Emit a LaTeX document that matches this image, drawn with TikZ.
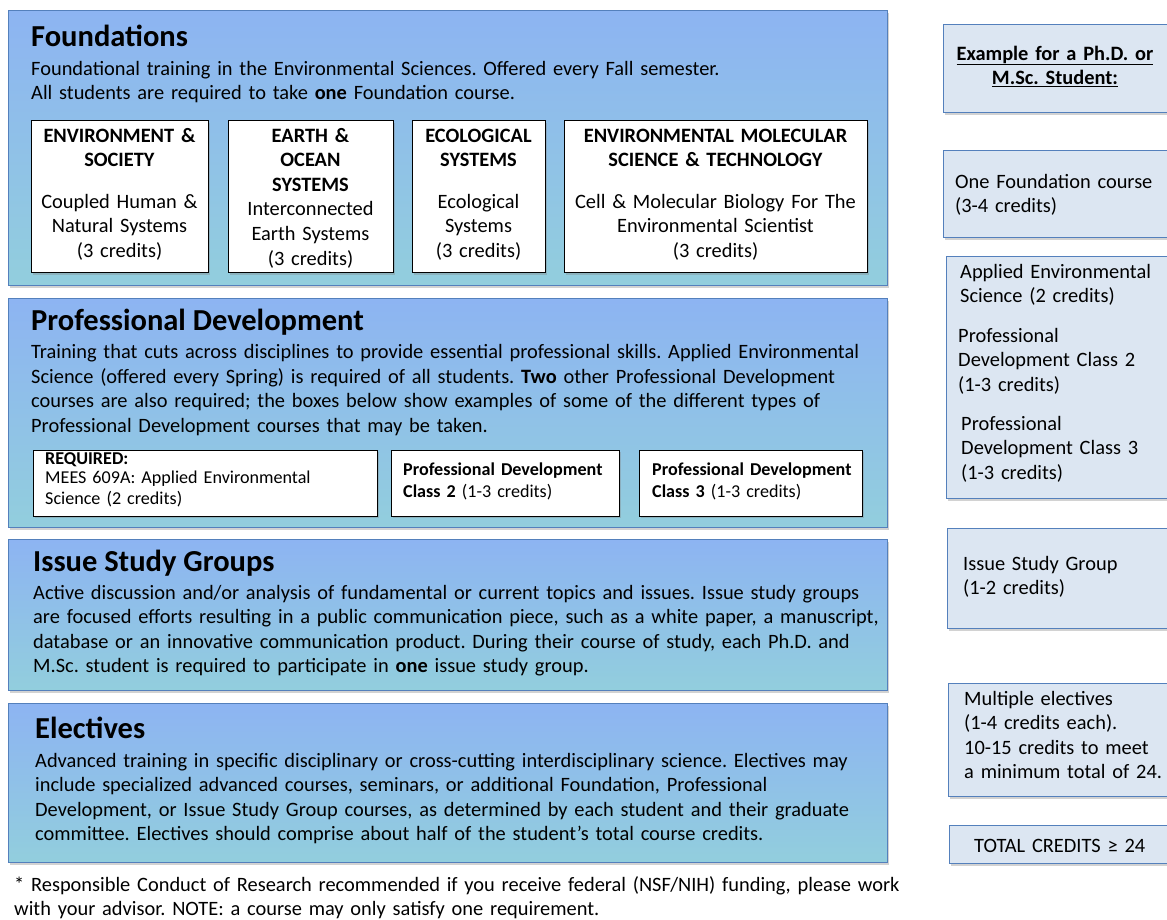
\documentclass[tikz,border=0pt]{standalone}
\usepackage{fontspec}
\setmainfont{Carlito}
\usetikzlibrary{shadows}
\definecolor{bluetop}{RGB}{141,180,242}
\definecolor{tealbot}{RGB}{146,206,221}
\definecolor{bord}{RGB}{84,128,188}
\definecolor{rfill}{RGB}{220,230,242}
\newcommand{\bodyfont}{\fontsize{20.4}{24.6}\selectfont}
\newcommand{\smallfont}{\fontsize{18.1}{21}\selectfont}
\frenchspacing
\begin{document}
\frenchspacing
\begin{tikzpicture}[x=1pt,y=-1pt,
  shad/.style={drop shadow={shadow xshift=1.5pt,shadow yshift=-2pt,opacity=.35}},
  bigbox/.style={draw=bord,line width=1.4pt,top color=bluetop,bottom color=tealbot,
    inner sep=0pt,anchor=north west,shad},
  whitebox/.style={draw=black,line width=1.2pt,fill=white,inner sep=0pt,anchor=north west,shad},
  rbox/.style={draw=bord,line width=1.4pt,fill=rfill,inner sep=0pt,anchor=north west,shad},
  titletext/.style={anchor=base west,inner sep=0pt,font=\fontsize{30.5}{36}\selectfont\bfseries},
  bodytext/.style={anchor=base west,inner sep=0pt,align=left,text width=1000pt,font=\bodyfont\frenchspacing},
  ctext/.style={anchor=base,inner sep=0pt,align=center,font=\bodyfont\frenchspacing},
  ltext/.style={anchor=base west,inner sep=0pt,align=left,text width=205pt,font=\bodyfont\frenchspacing},
  stext/.style={anchor=base west,inner sep=0pt,align=left,font=\smallfont\frenchspacing}
]
\useasboundingbox (0,0) rectangle (1167,919);
\fill[white] (0,0) rectangle (1167,919);

% ---------- big boxes ----------
\node[bigbox,minimum width=879pt,minimum height=275pt] (found) at (8,10) {};
\node[bigbox,minimum width=879pt,minimum height=229pt] (prof) at (8,298) {};
\node[bigbox,minimum width=879pt,minimum height=151pt] (isg) at (8,539) {};
\node[bigbox,minimum width=879pt,minimum height=159pt] (elec) at (8,703) {};

% ---------- Foundations ----------
\node[titletext] (ftitle) at (31,46) {Foundations};
\node[bodytext] (fbody) at (31,75) {Foundational training in the Environmental Sciences. Offered every Fall semester.\\
All students are required to take \textbf{one} Foundation course.};

\node[whitebox,minimum width=177pt,minimum height=152pt] (fb1) at (31,120) {};
\node[whitebox,minimum width=165pt,minimum height=152pt] (fb2) at (228,120) {};
\node[whitebox,minimum width=133pt,minimum height=152pt] (fb3) at (412,120) {};
\node[whitebox,minimum width=303pt,minimum height=152pt] (fb4) at (564,120) {};

\node[ctext,text width=170pt] (fb1t) at (119.5,142) {\textbf{ENVIRONMENT \&}\\ \textbf{SOCIETY}\\[17pt]
Coupled Human \&\\ Natural Systems\\ (3 credits)};
\node[ctext,text width=160pt] (fb2t) at (310.5,142) {\textbf{EARTH \&}\\ \textbf{OCEAN}\\ \textbf{SYSTEMS}\\
Interconnected\\ Earth Systems\\ (3 credits)};
\node[ctext,text width=130pt] (fb3t) at (478.5,142) {\textbf{ECOLOGICAL}\\ \textbf{SYSTEMS}\\[17pt]
Ecological\\ Systems\\ (3 credits)};
\node[ctext,text width=295pt] (fb4t) at (715.5,142) {\textbf{ENVIRONMENTAL MOLECULAR}\\ \textbf{SCIENCE \& TECHNOLOGY}\\[17pt]
Cell \& Molecular Biology For The\\ Environmental Scientist\\ (3 credits)};

% ---------- Professional Development ----------
\node[titletext] (ptitle) at (31,330) {Professional Development};
\node[bodytext] (pbody) at (31,358.5) {Training that cuts across disciplines to provide essential professional skills. Applied Environmental\\
Science (offered every Spring) is required of all students. \textbf{Two} other Professional Development\\
courses are also required; the boxes below show examples of some of the different types of\\
Professional Development courses that may be taken.};

\node[whitebox,minimum width=344pt,minimum height=66pt] (pb1) at (33,449.5) {};
\node[whitebox,minimum width=228pt,minimum height=66pt] (pb2) at (391,449.5) {};
\node[whitebox,minimum width=223pt,minimum height=66pt] (pb3) at (639,449.5) {};

\node[stext,text width=330pt] (pb1t) at (45,464) {\textbf{REQUIRED:}\\[-1.5pt]
MEES 609A: Applied Environmental\\ Science (2 credits)};
\node[stext,text width=215pt] (pb2t) at (403,475) {\textbf{Professional Development}\\[1.5pt]
\textbf{Class 2} (1-3 credits)};
\node[stext,text width=215pt] (pb3t) at (652,475) {\textbf{Professional Development}\\[1.5pt]
\textbf{Class 3} (1-3 credits)};

% ---------- Issue Study Groups ----------
\node[titletext] (ititle) at (33,571) {Issue Study Groups};
\node[bodytext] (ibody) at (33,599) {Active discussion and/or analysis of fundamental or current topics and issues. Issue study groups\\
are focused efforts resulting in a public communication piece, such as a white paper, a manuscript,\\
database or an innovative communication product. During their course of study, each Ph.D. and\\
M.Sc. student is required to participate in \textbf{one} issue study group.};

% ---------- Electives ----------
\node[titletext] (etitle) at (35,738) {Electives};
\node[bodytext] (ebody) at (35,767) {Advanced training in specific disciplinary or cross-cutting interdisciplinary science. Electives may\\
include specialized advanced courses, seminars, or additional Foundation, Professional\\
Development, or Issue Study Group courses, as determined by each student and their graduate\\
committee. Electives should comprise about half of the student’s total course credits.};

% ---------- footnote ----------
\node[bodytext] (foot) at (14,891) {* Responsible Conduct of Research recommended if you receive federal (NSF/NIH) funding, please work\\[-0.6pt]
with your advisor. NOTE: a course may only satisfy one requirement.};

% ---------- right column ----------
\node[rbox,minimum width=250pt,minimum height=88pt] (r1) at (943,24) {};
\node[rbox,minimum width=250pt,minimum height=87pt] (r2) at (943,150) {};
\node[rbox,minimum width=250pt,minimum height=242pt] (r3) at (946,256) {};
\node[rbox,minimum width=250pt,minimum height=100pt] (r4) at (947,528) {};
\node[rbox,minimum width=250pt,minimum height=113pt] (r5) at (948,683) {};
\node[rbox,minimum width=250pt,minimum height=38pt] (r6) at (949,825) {};

\node[ctext,text width=220pt] (r1t) at (1055,60) {\textbf{\underline{Example for a Ph.D. or}}\\ \textbf{\underline{M.Sc. Student:}}};
\node[ltext] (r2t) at (955,188) {One Foundation course\\ (3-4 credits)};
\node[ltext] (r3a) at (960,278) {Applied Environmental\\ Science (2 credits)};
\node[ltext] (r3b) at (958,342) {Professional\\ Development Class 2\\ (1-3 credits)};
\node[ltext] (r3c) at (961,430) {Professional\\ Development Class 3\\ (1-3 credits)};
\node[ltext] (r4t) at (963,570) {Issue Study Group\\ (1-2 credits)};
\node[ltext] (r5t) at (964,705) {Multiple electives\\ (1-4 credits each).\\ 10-15 credits to meet\\ a minimum total of 24.};
\node[ltext] (r6t) at (974,852) {TOTAL CREDITS ≥ 24};
\end{tikzpicture}
\end{document}
